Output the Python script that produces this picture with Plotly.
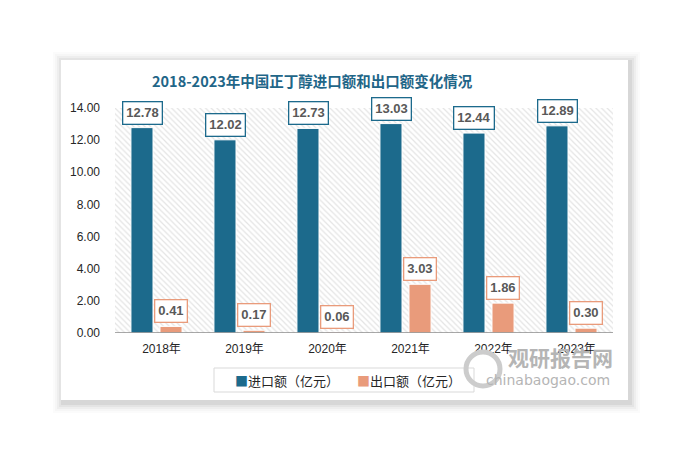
import plotly.graph_objects as go

years = ['2018年', '2019年', '2020年', '2021年', '2022年', '2023年']
imports = [12.78, 12.02, 12.73, 13.03, 12.44, 12.89]
exports = [0.41, 0.17, 0.06, 3.03, 1.86, 0.30]

IMP_COLOR = '#1c6a8c'
EXP_COLOR = '#e99b7b'
FONT = 'Liberation Sans, Noto Sans CJK SC, sans-serif'

# the page body adds an 8px margin, so every pixel position is shifted back by OFF
OFF = 8
# plot area in screen pixels: x 115..613, y 108..333
L, R, T, B = 115 - OFF, 613 - OFF, 108 - OFF, 333 - OFF
W, H = R - L, B - T

def px_x(p):
    return (p - OFF - L) / W

def px_y(p):
    return (B - (p - OFF)) / H

fig = go.Figure()

# hatched plot background on the base axis
fig.add_trace(go.Bar(x=[0.5], y=[14], width=[1], xaxis='x', yaxis='y',
                     marker=dict(color='white', line=dict(width=0),
                                 pattern=dict(shape='\\', fgcolor='#c9c9c9', bgcolor='white',
                                              size=4, solidity=0.3)),
                     hoverinfo='skip', showlegend=False))

fig.add_trace(go.Bar(name='进口额（亿元）', x=years, y=imports, xaxis='x2', yaxis='y',
                     marker=dict(color=IMP_COLOR, line=dict(color='white', width=1)),
                     showlegend=False))
fig.add_trace(go.Bar(name='出口额（亿元）', x=years, y=exports, xaxis='x2', yaxis='y',
                     marker=dict(color=EXP_COLOR, line=dict(color='white', width=1)),
                     showlegend=False))

annotations = []
for yr, v in zip(years, imports):
    annotations.append(dict(x=yr, y=v, xref='x2', yref='y', text=f'<b>{v:.2f}</b>',
                            showarrow=False, xshift=-14.5, yshift=3, yanchor='bottom',
                            bgcolor='white', bordercolor=IMP_COLOR, borderwidth=1.3, borderpad=3,
                            font=dict(family=FONT, size=13, color='#595959')))
for yr, v in zip(years, exports):
    annotations.append(dict(x=yr, y=v, xref='x2', yref='y', text=f'<b>{v:.2f}</b>',
                            showarrow=False, xshift=14.5, yshift=3, yanchor='bottom',
                            bgcolor='white', bordercolor=EXP_COLOR, borderwidth=1.3, borderpad=3,
                            font=dict(family=FONT, size=13, color='#595959')))

annotations.append(dict(x=px_x(312), y=px_y(81), xref='paper', yref='paper',
                        text='<b>2018-2023年中国正丁醇进口额和出口额变化情况</b>',
                        showarrow=False, xanchor='center', yanchor='middle',
                        font=dict(family='Noto Sans CJK SC, serif', size=14.5, color='#1f6688')))

# legend
annotations.append(dict(x=px_x(233), y=px_y(380), xref='paper', yref='paper',
                        xanchor='left', yanchor='middle',
                        text=f'<span style="color:{IMP_COLOR}">■</span>进口额（亿元）',
                        showarrow=False, font=dict(family='Noto Sans CJK SC', size=13, color='#262626')))
annotations.append(dict(x=px_x(355), y=px_y(380), xref='paper', yref='paper',
                        xanchor='left', yanchor='middle',
                        text=f'<span style="color:{EXP_COLOR}">■</span>出口额（亿元）',
                        showarrow=False, font=dict(family='Noto Sans CJK SC', size=13, color='#262626')))

# watermark
annotations.append(dict(x=px_x(560), y=px_y(357), xref='paper', yref='paper',
                        xanchor='center', yanchor='middle', text='<b>观研报告网</b>',
                        showarrow=False, font=dict(family='Noto Sans CJK SC', size=21, color='#b5b5b5')))
annotations.append(dict(x=px_x(548), y=px_y(380), xref='paper', yref='paper',
                        xanchor='center', yanchor='middle', text='chinabaogao.com',
                        showarrow=False, font=dict(family='DejaVu Sans', size=14, color='#b5b5b5')))

shapes = []
# card shadow
for i, op in enumerate([0.05, 0.04, 0.03, 0.02, 0.015]):
    d = 2 * (i + 1)
    shapes.append(dict(type='rect', xref='paper', yref='paper', layer='below',
                       x0=px_x(61 - d + 2), x1=px_x(628 + d + 2), y0=px_y(400 + d + 3), y1=px_y(60 - d + 2),
                       fillcolor=f'rgba(0,0,0,{op})', line=dict(width=0)))
shapes.append(dict(type='rect', xref='paper', yref='paper', layer='below',
                   x0=px_x(61), x1=px_x(628), y0=px_y(400), y1=px_y(60),
                   fillcolor='white', line=dict(width=0)))
# legend box
shapes.append(dict(type='rect', xref='paper', yref='paper',
                   x0=px_x(214), x1=px_x(474), y0=px_y(392), y1=px_y(368),
                   fillcolor='rgba(0,0,0,0)', line=dict(color='#d9d9d9', width=1)))
# baseline
shapes.append(dict(type='line', xref='paper', yref='y', x0=0, x1=1, y0=0, y1=0,
                   line=dict(color='#8c8c8c', width=1.5)))
# watermark logo ring
shapes.append(dict(type='circle', xref='paper', yref='paper',
                   x0=px_x(466), x1=px_x(500), y0=px_y(386), y1=px_y(352),
                   line=dict(color='#cccccc', width=5)))

fig.update_layout(
    width=688, height=459,
    margin=dict(l=L, r=688 - R, t=T, b=459 - B),
    paper_bgcolor='white', plot_bgcolor='rgba(0,0,0,0)',
    barmode='group', bargap=0.30, bargroupgap=0.24,
    font=dict(family=FONT, size=12, color='#333333'),
    showlegend=False,
    xaxis=dict(range=[0, 1], visible=False, fixedrange=True),
    xaxis2=dict(overlaying='x', anchor='y', side='bottom', type='category',
                showline=False, showgrid=False, ticks='', ticklabelstandoff=7, ticklabelshift=5,
                tickfont=dict(size=12, color='#262626')),
    yaxis=dict(range=[0, 14], dtick=2, tickformat='.2f', showgrid=False, zeroline=False,
               showline=False, ticks='', ticklabelstandoff=14,
               tickfont=dict(size=12, color='#262626')),
    annotations=annotations, shapes=shapes,
)

fig.write_html('out.html')
